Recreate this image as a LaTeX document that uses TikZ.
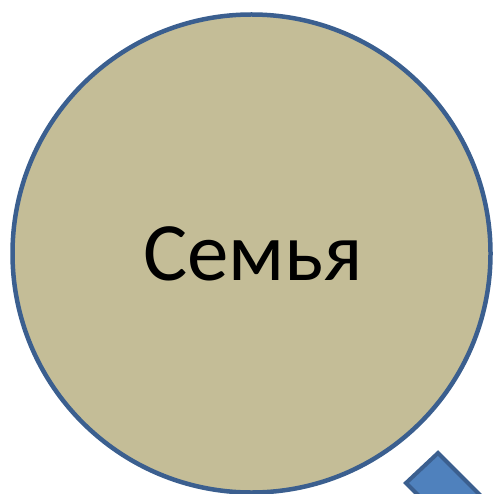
\documentclass[tikz,border=0pt]{standalone}
\usepackage{fontspec}
\setmainfont{Carlito}
\usepackage{tikz}
\usetikzlibrary{positioning}

\definecolor{circfill}{HTML}{C4BD97}
\definecolor{circline}{HTML}{3B5F8F}
\definecolor{handfill}{HTML}{4F81BD}

\begin{document}
\begin{tikzpicture}[
            x = 1pt, y = -1pt, % pixel like units, y downwards
            semithick % line style
        ]

        \tikzstyle{every lens}=[
            draw = circline,
            line width = 4.5pt,
            fill = circfill,
            circle,
            inner sep = 0pt,
            minimum size = 478pt
        ]
        \tikzstyle{handle}=[
            draw = circline,
            line width = 4pt,
            fill = handfill
        ]

        \useasboundingbox (0,0) rectangle (492,494);

        \node[every lens] (family) at (251.5,253.5) {};
        \node (label) at (family.center) [xshift=1.5pt, yshift=0pt] {\fontsize{83}{100}\selectfont Семья};

        % handle, leaving the picture at the lower right
        \coordinate (ht) at (438,453);
        \coordinate (hl) at (406,483);
        \draw[handle] (ht) -- (hl) -- ++(60,60) -- ++(32,-30) -- cycle;

  \end{tikzpicture}
\end{document}
